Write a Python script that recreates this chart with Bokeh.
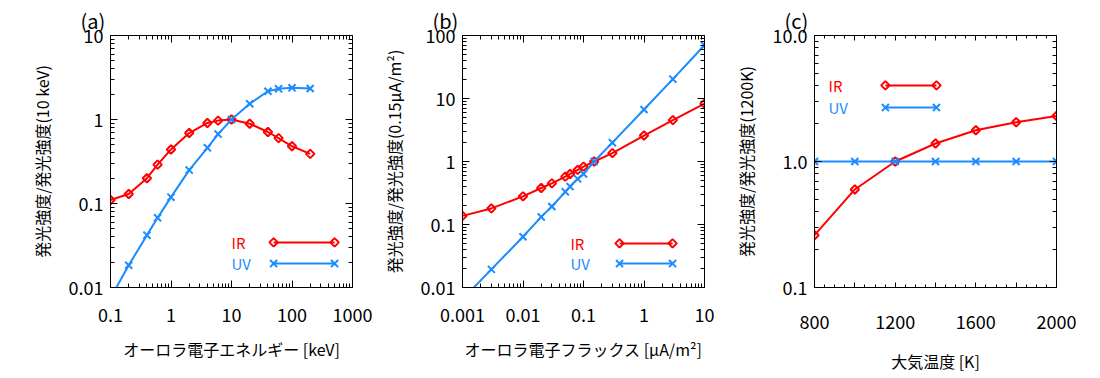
import numpy as np
from bokeh.plotting import figure
from bokeh.layouts import row
from bokeh.models import FixedTicker, LogAxis, LinearAxis, Label
from bokeh.embed import file_html
from bokeh.resources import INLINE

# ---------------- data ----------------
# (a) energy dependence
energy = [0.1, 0.2, 0.4, 0.6, 1, 2, 4, 6, 10, 20, 40, 60, 100, 200]
ir_energy = [0.11, 0.13, 0.20, 0.29, 0.44, 0.69, 0.91, 0.97, 1.0, 0.89, 0.71, 0.60, 0.48, 0.39]
uv_energy = [0.0075, 0.0184, 0.042, 0.0675, 0.119, 0.25, 0.46, 0.67, 1.0, 1.54, 2.17, 2.32, 2.38, 2.34]

# (b) flux dependence
flux = [0.001, 0.003, 0.01, 0.02, 0.03, 0.05, 0.06, 0.08, 0.1, 0.15, 0.3, 1, 3, 10]
ir_flux = [0.137, 0.18, 0.28, 0.38, 0.45, 0.575, 0.635, 0.735, 0.83, 1.0, 1.36, 2.58, 4.53, 8.3]
uv_flux = [0.0065, 0.0194, 0.064, 0.132, 0.193, 0.33, 0.40, 0.53, 0.635, 1.0, 1.99, 6.7, 20.3, 70]

# (c) temperature dependence
temp = [800, 1000, 1200, 1400, 1600, 1800, 2000]
ir_temp = [0.26, 0.60, 1.0, 1.39, 1.77, 2.05, 2.30]
uv_temp = [1.0, 1.0, 1.0, 1.0, 1.0, 1.0, 1.0]

# tick labels
ticks_a_x = {0.1: "0.1", 1: "1", 10: "10", 100: "100", 1000: "1000"}
ticks_a_y = {0.01: "0.01", 0.1: "0.1", 1: "1", 10: "10"}
ticks_b_x = {0.001: "0.001", 0.01: "0.01", 0.1: "0.1", 1: "1", 10: "10"}
ticks_b_y = {0.01: "0.01", 0.1: "0.1", 1: "1", 10: "10", 100: "100"}
ticks_c_x = {800: "800", 1000: " ", 1200: "1200", 1400: " ", 1600: "1600", 1800: " ", 2000: "2000"}
ticks_c_y = {0.1: "0.1", 1: "1.0", 10: "10.0"}

panel_labels = ["(a)", "(b)", "(c)"]
x_titles = ["オーロラ電子エネルギー [keV]", "オーロラ電子フラックス [μA/m²]", "大気温度 [K]"]
y_titles = ["発光強度/発光強度(10 keV)", "発光強度/発光強度(0.15μA/m²)", "発光強度/発光強度(1200K)"]
series_names = ["IR", "UV"]

# ---------------- style ----------------
RED = "#ff0000"
BLUE = "#1a8cff"
FONT = "Noto Sans CJK JP"
FRAME_W, FRAME_H = 242, 252


def log_minor(lo, hi):
    out = []
    d = lo
    while d < hi * 0.999:
        for m in range(2, 10):
            out.append(d * m)
        d *= 10
    return out


def frac(lo, hi, f, log):
    if log:
        return 10 ** (np.log10(lo) + f * (np.log10(hi) - np.log10(lo)))
    return lo + f * (hi - lo)


def style_axis(ax, overrides=None, labels=True, major=7, minor=4, standoff=7):
    ax.axis_line_color = "black"
    ax.major_tick_line_color = "black"
    ax.minor_tick_line_color = "black"
    ax.major_tick_in = major
    ax.major_tick_out = 0
    ax.minor_tick_in = minor
    ax.minor_tick_out = 0
    if labels:
        ax.major_label_text_font = FONT
        ax.major_label_text_font_size = "18px"
        ax.major_label_text_color = "black"
        ax.major_label_standoff = standoff
        if overrides:
            ax.major_label_overrides = overrides
        ax.axis_label_text_font = FONT
        ax.axis_label_text_font_size = "16px"
        ax.axis_label_text_font_style = "normal"
        ax.axis_label_text_color = "black"
    else:
        ax.major_label_text_font_size = "2px"
        ax.major_label_text_alpha = 0
        ax.major_label_standoff = 0


def make_panel(idx, xlog, xr, yr, xticks, yticks, xminor, yminor, left, right,
               xmajor=7, xminor_len=4):
    p = figure(frame_width=FRAME_W, frame_height=FRAME_H,
               x_axis_type="log" if xlog else "linear", y_axis_type="log",
               x_range=xr, y_range=yr, output_backend="svg", toolbar_location=None,
               min_border_left=left, min_border_right=right,
               min_border_top=35, min_border_bottom=80,
               background_fill_color="white", border_fill_color="white")
    p.xgrid.visible = False
    p.ygrid.visible = False
    p.outline_line_color = "black"
    p.outline_line_width = 1

    p.title.text = panel_labels[idx]
    p.title.text_font = FONT
    p.title.text_font_size = "20px"
    p.title.text_font_style = "normal"
    p.title.text_color = "black"
    p.title.align = "left"
    p.title.offset = -30
    p.title.standoff = 2

    xt = FixedTicker(ticks=list(xticks.keys()), minor_ticks=xminor)
    yt = FixedTicker(ticks=list(yticks.keys()), minor_ticks=yminor)
    p.xaxis.ticker = xt
    p.yaxis.ticker = yt
    style_axis(p.xaxis[0], xticks, major=xmajor, minor=xminor_len, standoff=20)
    style_axis(p.yaxis[0], yticks, standoff=7)
    p.xaxis.axis_label = x_titles[idx]
    p.yaxis.axis_label = y_titles[idx]
    p.xaxis.axis_label_standoff = 12
    p.yaxis.axis_label_standoff = 12

    top = (LogAxis if xlog else LinearAxis)(ticker=xt)
    style_axis(top, labels=False, major=xmajor, minor=xminor_len)
    p.add_layout(top, "above")
    rgt = LogAxis(ticker=yt)
    style_axis(rgt, labels=False)
    p.add_layout(rgt, "right")
    return p


def add_series(p, x, y, color, kind):
    p.line(x, y, line_color=color, line_width=2)
    if kind == "IR":
        p.scatter(x, y, marker="square", angle=np.pi / 4, size=6,
                  line_color=color, line_width=2, fill_color=None)
    else:
        p.scatter(x, y, marker="x", size=10, line_color=color, line_width=2)


def add_legend(p, xr, yr, xlog, lab_f, x0f, x1f, yfs):
    for name, color, yf in zip(series_names, [RED, BLUE], yfs):
        yy = frac(yr[0], yr[1], yf, True)
        xa = frac(xr[0], xr[1], x0f, xlog)
        xb = frac(xr[0], xr[1], x1f, xlog)
        add_series(p, [xa, xb], [yy, yy], color, name)
        p.add_layout(Label(x=frac(xr[0], xr[1], lab_f, xlog), y=yy, text=name,
                           text_font=FONT, text_font_size="15px", text_color=color,
                           text_baseline="middle", text_align="left"))


# ---------------- panels ----------------
xr_a, yr_a = (0.1, 1000), (0.01, 10)
pa = make_panel(0, True, xr_a, yr_a, ticks_a_x, ticks_a_y,
                log_minor(0.1, 1000), log_minor(0.01, 10), 110, 24)
add_series(pa, energy, ir_energy, RED, "IR")
add_series(pa, energy, uv_energy, BLUE, "UV")
add_legend(pa, xr_a, yr_a, True, 0.50, 0.674, 0.926, [0.179, 0.095])

xr_b, yr_b = (0.001, 10), (0.01, 100)
pb = make_panel(1, True, xr_b, yr_b, ticks_b_x, ticks_b_y,
                log_minor(0.001, 10), log_minor(0.01, 100), 86, 24)
add_series(pb, flux, ir_flux, RED, "IR")
add_series(pb, flux, uv_flux, BLUE, "UV")
add_legend(pb, xr_b, yr_b, True, 0.446, 0.649, 0.868, [0.175, 0.095])

xr_c, yr_c = (800, 2000), (0.1, 10)
pc = make_panel(2, False, xr_c, yr_c, ticks_c_x, ticks_c_y,
                list(range(850, 2000, 50)), log_minor(0.1, 10), 86, 24,
                xmajor=5, xminor_len=3)
add_series(pc, temp, ir_temp, RED, "IR")
add_series(pc, temp, uv_temp, BLUE, "UV")
add_legend(pc, xr_c, yr_c, False, 0.058, 0.293, 0.504, [0.802, 0.714])

layout = row(pa, pb, pc, spacing=0)
open("out.html", "w").write(file_html(layout, INLINE))
